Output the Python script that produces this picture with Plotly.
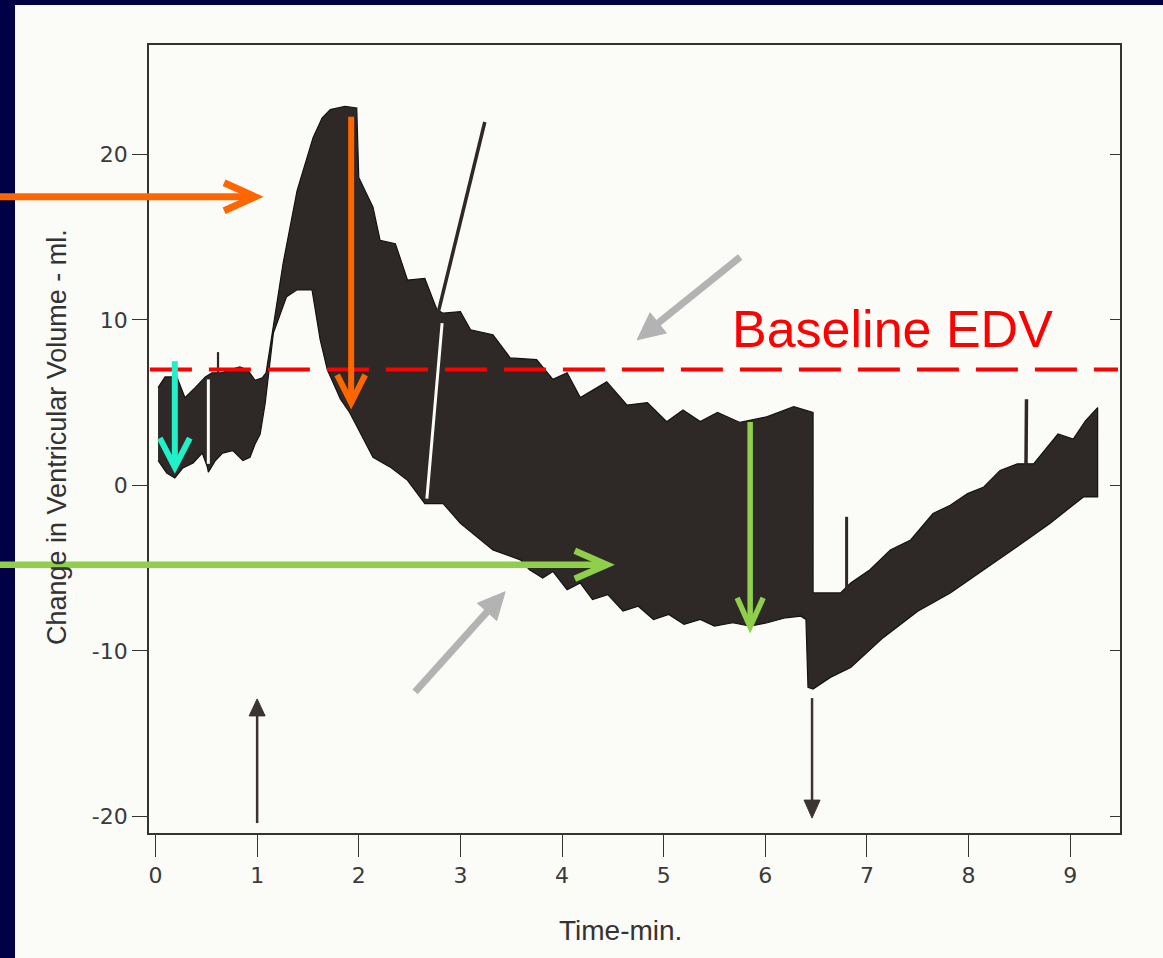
import math
import plotly.graph_objects as go

# ------------------------------------------------------------------ data
# Envelope of the recorded ventricular volume band (time in min, volume in ml)
UPPER_T = [0.025, 0.094, 0.21, 0.29, 0.39, 0.49, 0.556, 0.655, 0.714, 0.83, 0.91, 0.98, 1.05, 1.088,
           1.255, 1.393, 1.55, 1.64, 1.72, 1.865, 1.98, 2.00, 2.14, 2.21, 2.36, 2.48, 2.65, 2.77,
           2.83, 3.0, 3.1, 3.25, 3.32, 3.49, 3.75, 3.91, 4.05, 4.18, 4.44, 4.64, 4.84, 5.03, 5.19,
           5.36, 5.53, 5.75, 6.02, 6.28, 6.47, 6.47, 6.74, 6.84, 7.03, 7.23, 7.43, 7.65, 7.82,
           7.99, 8.15, 8.31, 8.48, 8.64, 8.88, 9.03, 9.15, 9.27]
UPPER_V = [5.9, 6.55, 6.55, 5.3, 5.9, 6.55, 6.8, 6.8, 6.95, 7.15, 6.95, 6.35, 6.5, 6.8,
           13.4, 17.8, 21.0, 22.2, 22.7, 22.9, 22.8, 18.6, 16.8, 14.8, 14.6, 12.4, 12.5, 10.6,
           10.4, 10.5, 9.4, 9.2, 9.1, 7.7, 7.6, 6.4, 6.8, 5.3, 6.25, 4.85, 5.0, 3.85, 4.55,
           3.85, 4.4, 3.8, 4.15, 4.75, 4.4, -6.5, -6.5, -5.9, -5.1, -3.9, -3.3, -1.7, -1.2,
           -0.5, -0.1, 0.9, 1.3, 1.3, 3.1, 2.8, 3.9, 4.7]
LOWER_T = [0.025, 0.11, 0.19, 0.27, 0.37, 0.46, 0.51, 0.52, 0.59, 0.66, 0.76, 0.86, 0.93, 0.98,
           1.03, 1.08, 1.16, 1.29, 1.39, 1.54, 1.62, 1.69, 1.82, 1.91, 2.14, 2.31, 2.48, 2.60,
           2.65, 2.83, 3.0, 3.32, 3.59, 3.68, 3.81, 3.91, 4.05, 4.18, 4.30, 4.45, 4.60, 4.75,
           4.90, 5.05, 5.20, 5.36, 5.50, 5.68, 5.85, 6.02, 6.20, 6.35, 6.40, 6.42, 6.47, 6.64,
           6.84, 7.16, 7.50, 7.82, 8.15, 8.48, 8.80, 9.13, 9.27]
LOWER_V = [1.5, 0.75, 0.45, 1.05, 1.35, 1.95, 1.1, 0.8, 1.5, 1.95, 2.1, 1.5, 1.7, 2.5,
           3.1, 5.0, 9.2, 11.4, 11.8, 11.8, 8.8, 7.0, 5.2, 4.4, 1.7, 1.1, 0.3, -0.7,
           -1.1, -1.1, -2.3, -3.9, -4.5, -5.1, -5.6, -5.2, -6.3, -5.9, -6.9, -6.6, -7.6, -7.3,
           -8.1, -7.8, -8.4, -8.1, -8.5, -8.3, -8.5, -8.3, -8.0, -7.9, -8.1, -12.2, -12.3, -11.6,
           -11.0, -9.2, -7.6, -6.5, -5.1, -3.7, -2.3, -0.7, -0.7]

# thin pen strokes (spikes) : start / end in (min, ml)
SPIKE_T = [[0.615, 0.615], [2.78, 3.24], [6.80, 6.80], [8.565, 8.57]]
SPIKE_V = [[6.6, 8.05], [10.4, 21.95], [-6.4, -1.9], [1.2, 5.2]]
SPIKE_W = [2.2, 3.5, 3.0, 3.5]
# white gaps in the trace
SLIT_T = [[0.52, 0.52], [2.82, 2.67]]
SLIT_V = [[1.3, 6.4], [9.8, -0.8]]

BASELINE_EDV = 7.0

X_TICKS = [0, 1, 2, 3, 4, 5, 6, 7, 8, 9]
X_TICK_TEXT = ["0", "1", "2", "3", "4", "5", "6", "7", "8", "9"]
Y_TICKS = [-20, -10, 0, 10, 20]
Y_TICK_TEXT = ["-20", "-10", "0", "10", "20"]

# ------------------------------------------------------------------ layout geometry
W, H = 1163, 958
ML, MR, MT, MB = 149, 43, 45, 125
PW, PH = W - ML - MR, H - MT - MB
XR = [-0.064, 9.49]
YR = [-21.0, 26.6]

NAVY = "#000046"
PAPER = "#fbfbf8"
INK = "#2e2927"


def px_x(t):
    return ML + (t - XR[0]) / (XR[1] - XR[0]) * PW


def px_y(v):
    return MT + (YR[1] - v) / (YR[1] - YR[0]) * PH


def pap(xp, yp):
    return (xp - ML) / PW, (H - MB - yp) / PH


def path_str(pts):
    s = ""
    for i, (xp, yp) in enumerate(pts):
        a, b = pap(xp, yp)
        s += ("M" if i == 0 else " L") + f"{a:.5f},{b:.5f}"
    return s


shapes = []
# slide paper
x0, y1 = pap(15, 5)
x1, y0 = pap(W + 5, H + 5)
shapes.append(dict(type="rect", xref="paper", yref="paper", x0=x0, x1=x1, y0=y0, y1=y1,
                   fillcolor=PAPER, line=dict(width=0), layer="below"))

# baseline EDV dashed line
shapes.append(dict(type="line", xref="x", yref="y", x0=-0.055, x1=9.47,
                   y0=BASELINE_EDV, y1=BASELINE_EDV,
                   line=dict(color="#ff0000", width=4, dash="42px,17px"), layer="above"))


def chevron_arrow(start_px, tip_px, color, width, back, spread):
    sx, sy = start_px
    tx, ty = tip_px
    dx, dy = tx - sx, ty - sy
    ln = math.hypot(dx, dy)
    ux, uy = dx / ln, dy / ln
    px_, py_ = -uy, ux
    a = (tx - back * ux + spread * px_, ty - back * uy + spread * py_)
    b = (tx - back * ux - spread * px_, ty - back * uy - spread * py_)
    shapes.append(dict(type="path", xref="paper", yref="paper", path=path_str([start_px, tip_px]),
                       line=dict(color=color, width=width), layer="above"))
    shapes.append(dict(type="path", xref="paper", yref="paper", path=path_str([a, tip_px, b]),
                       line=dict(color=color, width=width), layer="above"))


def solid_arrow(start_px, tip_px, color, width, head_len, head_half):
    sx, sy = start_px
    tx, ty = tip_px
    dx, dy = tx - sx, ty - sy
    ln = math.hypot(dx, dy)
    ux, uy = dx / ln, dy / ln
    px_, py_ = -uy, ux
    bx, by = tx - head_len * ux, ty - head_len * uy
    shapes.append(dict(type="path", xref="paper", yref="paper", path=path_str([start_px, (bx, by)]),
                       line=dict(color=color, width=width), layer="above"))
    tri = [(bx + head_half * px_, by + head_half * py_), tip_px,
           (bx - head_half * px_, by - head_half * py_)]
    shapes.append(dict(type="path", xref="paper", yref="paper", path=path_str(tri) + " Z",
                       fillcolor=color, line=dict(color=color, width=1), layer="above"))


# original figure arrows (injection markers)
solid_arrow((px_x(1.0), px_y(-20.4)), (px_x(1.0), px_y(-12.9)), "#3b3432", 2.5, 17, 8)
solid_arrow((px_x(6.46), px_y(-12.85)), (px_x(6.46), px_y(-20.1)), "#3b3432", 2.5, 18, 8)

# presentation arrows
ORANGE, GREEN, TEAL, GRAY = "#ff6600", "#8fcf4a", "#22f0c8", "#b3b3b3"
solid_arrow((px_x(5.753), px_y(13.8)), (px_x(4.739), px_y(8.79)), GRAY, 7, 27, 13)
solid_arrow((px_x(2.554), px_y(-12.47)), (px_x(3.44), px_y(-6.43)), GRAY, 7, 27, 13)
chevron_arrow((0, px_y(17.43)), (px_x(0.98), px_y(17.43)), ORANGE, 7, 31, 14)
chevron_arrow((px_x(1.925), px_y(22.27)), (px_x(1.925), px_y(4.98)), ORANGE, 6, 28, 14)
chevron_arrow((px_x(0.19), px_y(7.5)), (px_x(0.19), px_y(1.1)), TEAL, 6, 29, 15)
chevron_arrow((0, px_y(-4.8)), (px_x(4.44), px_y(-4.8)), GREEN, 6.5, 32, 14)
chevron_arrow((px_x(5.851), px_y(3.83)), (px_x(5.851), px_y(-8.55)), GREEN, 5.5, 29, 13)

# ------------------------------------------------------------------ traces
fig = go.Figure()
fig.add_trace(go.Scatter(x=UPPER_T + LOWER_T[::-1], y=UPPER_V + LOWER_V[::-1],
                         mode="lines", fill="toself", fillcolor=INK,
                         line=dict(color="#151312", width=1.2), hoverinfo="skip", showlegend=False))
for ts, vs, w in zip(SPIKE_T, SPIKE_V, SPIKE_W):
    fig.add_trace(go.Scatter(x=ts, y=vs, mode="lines", line=dict(color=INK, width=w),
                             hoverinfo="skip", showlegend=False))
for ts, vs in zip(SLIT_T, SLIT_V):
    fig.add_trace(go.Scatter(x=ts, y=vs, mode="lines", line=dict(color=PAPER, width=3),
                             hoverinfo="skip", showlegend=False))
fig.add_trace(go.Scatter(x=[None], y=[None], yaxis="y2", mode="lines",
                         hoverinfo="skip", showlegend=False))

AX = "#333333"
TICKFONT = dict(family="DejaVu Sans", size=22, color="#3a3a3a")
fig.update_layout(
    width=W, height=H, autosize=False,
    margin=dict(l=ML, r=MR, t=MT, b=MB, pad=0),
    paper_bgcolor=NAVY, plot_bgcolor="rgba(0,0,0,0)",
    showlegend=False,
    xaxis=dict(range=XR, tickvals=X_TICKS, ticktext=X_TICK_TEXT, ticks="outside", ticklen=22,
               tickwidth=1.3, tickcolor=AX, showline=True, linecolor=AX, linewidth=1.6,
               mirror=True, showgrid=False, zeroline=False, tickfont=TICKFONT,
               ticklabelstandoff=0),
    yaxis=dict(range=YR, tickvals=Y_TICKS, ticktext=Y_TICK_TEXT, ticks="outside", ticklen=15,
               tickwidth=1.3, tickcolor=AX, showline=True, linecolor=AX, linewidth=1.6,
               showgrid=False, zeroline=False, tickfont=TICKFONT, ticklabelstandoff=0),
    yaxis2=dict(range=YR, tickvals=Y_TICKS, overlaying="y", side="right", ticks="inside",
                ticklen=10, tickwidth=1.3, tickcolor=AX, showline=True, linecolor=AX,
                linewidth=1.6, showgrid=False, zeroline=False, showticklabels=False),
    shapes=shapes,
)

ytx, yty = pap(57, 437)
xtx, xty = pap(620, 930)
fig.update_layout(annotations=[
    dict(text="Baseline EDV", x=5.655, y=9.45, xref="x", yref="y", xanchor="left",
         yanchor="middle", showarrow=False,
         font=dict(family="Liberation Sans, Arial, sans-serif", size=52, color="#ff0000")),
    dict(text="Change in Ventricular Volume - ml.", x=ytx, y=yty, xref="paper", yref="paper",
         textangle=-90, xanchor="center", yanchor="middle", showarrow=False,
         font=dict(family="Liberation Sans, Arial, sans-serif", size=27, color="#333333")),
    dict(text="Time-min.", x=xtx, y=xty, xref="paper", yref="paper",
         xanchor="center", yanchor="middle", showarrow=False,
         font=dict(family="Liberation Sans, Arial, sans-serif", size=28, color="#333333")),
])

fig.write_html("out.html")
